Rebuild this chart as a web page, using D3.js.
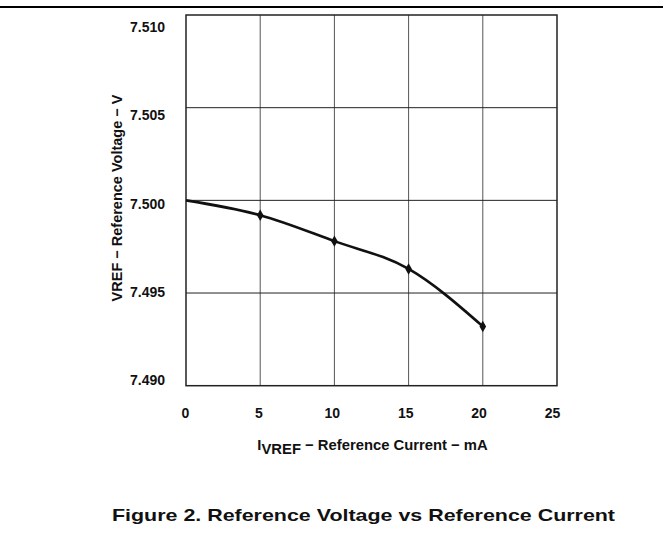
<!DOCTYPE html>
<html>
<head>
<meta charset="utf-8">
<script src="https://cdn.jsdelivr.net/npm/d3@7"></script>
<style>
  html, body { margin: 0; padding: 0; background: #fff; }
  text { font-family: "Liberation Sans", Arial, sans-serif; font-weight: bold; fill: #111; }
</style>
</head>
<body>
<svg id="chart" width="663" height="533"></svg>
<script>
// ---- data ----
const current = [0, 5, 10, 15, 20];            // mA
const voltage = [7.5000, 7.4992, 7.4978, 7.4963, 7.4932]; // V
const xTicks = [0, 5, 10, 15, 20, 25];
const yTicks = [7.490, 7.495, 7.500, 7.505, 7.510];
const yTickLabels = ["7.490", "7.495", "7.500", "7.505", "7.510"];
const xTickLabels = ["0", "5", "10", "15", "20", "25"];
const yTitle = "VREF − Reference Voltage − V";
const xTitleMain = "I";
const xTitleSub = "VREF";
const xTitleRest = " − Reference Current − mA";
const figTitle = "Figure 2. Reference Voltage vs Reference Current";

const svg = d3.select("#chart");
const W = 663, H = 533;
const plot = { left: 186, right: 557, top: 15, bottom: 385.7 };

const x = d3.scaleLinear().domain([0, 25]).range([plot.left, plot.right]);
const y = d3.scaleLinear().domain([7.490, 7.510]).range([plot.bottom, plot.top]);
// label scales (tick labels in the original are placed slightly off the grid)
const xLab = d3.scaleLinear().domain([0, 25]).range([185, 552]);
const yLab = d3.scaleLinear().domain([7.490, 7.510]).range([380.5, 27]);

// top rule
svg.append("line").attr("x1", 0).attr("x2", W).attr("y1", 7).attr("y2", 7)
  .attr("stroke", "#000").attr("stroke-width", 2);

// grid
const g = svg.append("g");
g.selectAll("line.vx").data(xTicks.slice(1, -1)).join("line")
  .attr("x1", d => x(d)).attr("x2", d => x(d))
  .attr("y1", plot.top).attr("y2", plot.bottom)
  .attr("stroke", "#555").attr("stroke-width", 1);
g.selectAll("line.hy").data(yTicks.slice(1, -1)).join("line")
  .attr("x1", plot.left).attr("x2", plot.right)
  .attr("y1", d => y(d)).attr("y2", d => y(d))
  .attr("stroke", "#222").attr("stroke-width", 1);

// frame
svg.append("rect").attr("x", plot.left).attr("y", plot.top)
  .attr("width", plot.right - plot.left).attr("height", plot.bottom - plot.top)
  .attr("fill", "none").attr("stroke", "#222").attr("stroke-width", 1.5);

// x tick labels via axis
const xAxis = d3.axisBottom(xLab).tickValues(xTicks).tickSize(0)
  .tickFormat((d, i) => xTickLabels[i]);
const gx = svg.append("g").attr("transform", "translate(0,405)").call(xAxis);
gx.select(".domain").remove();
gx.selectAll("text").attr("font-size", 14).attr("font-family", "Liberation Sans, Arial, sans-serif")
  .attr("font-weight", "bold").attr("fill", "#111");

// y tick labels via axis
const yAxis = d3.axisLeft(yLab).tickValues(yTicks).tickSize(0)
  .tickFormat((d, i) => yTickLabels[i]);
const gy = svg.append("g").attr("transform", "translate(168,0)").call(yAxis);
gy.select(".domain").remove();
gy.selectAll("text").attr("font-size", 14).attr("font-family", "Liberation Sans, Arial, sans-serif")
  .attr("font-weight", "bold").attr("fill", "#111");

// curve
const pts = current.map((c, i) => [c, voltage[i]]);
const line = d3.line().x(d => x(d[0])).y(d => y(d[1])).curve(d3.curveMonotoneX);
svg.append("path").datum(pts).attr("d", line)
  .attr("fill", "none").attr("stroke", "#111").attr("stroke-width", 2.6)
  .attr("stroke-linejoin", "round");

// markers (diamonds), none at 0
svg.selectAll("path.mk").data(pts.filter(d => d[0] > 0)).join("path")
  .attr("d", d3.symbol().type(d3.symbolDiamond).size(38))
  .attr("transform", d => `translate(${x(d[0])},${y(d[1])})`)
  .attr("fill", "#111");

// y title
svg.append("text").attr("transform", "translate(122,198) rotate(-90)")
  .attr("text-anchor", "middle").attr("font-size", 14.5).text(yTitle);

// x title
const xt = svg.append("text").attr("x", 372.5).attr("y", 450)
  .attr("text-anchor", "middle").attr("font-size", 14.8);
xt.append("tspan").text(xTitleMain);
xt.append("tspan").attr("dy", 4).text(xTitleSub);
xt.append("tspan").attr("dy", -4).text(xTitleRest);

// figure title
svg.append("text").attr("x", 363.5).attr("y", 521)
  .attr("text-anchor", "middle").attr("font-size", 17)
  .attr("textLength", 503).attr("lengthAdjust", "spacingAndGlyphs")
  .text(figTitle);
</script>
</body>
</html>
